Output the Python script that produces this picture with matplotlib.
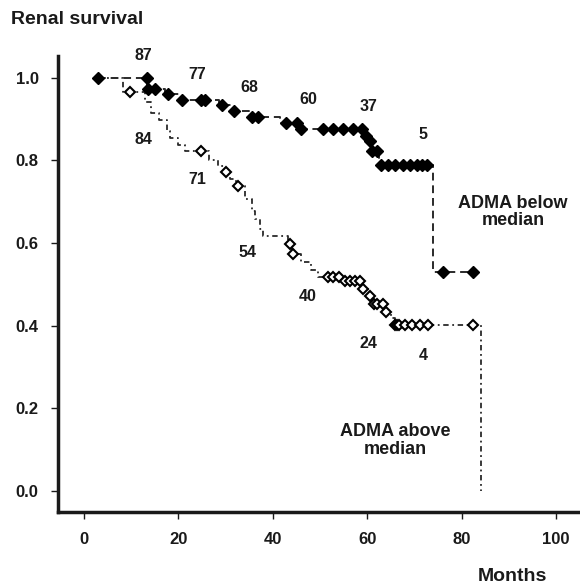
import matplotlib
matplotlib.use("Agg")
import matplotlib.pyplot as plt

plt.rcParams['font.family'] = ['Liberation Sans', 'DejaVu Sans']
plt.rcParams['font.weight'] = 'bold'

# ADMA below median: step curve and censored marks
below_t = [3, 13.4, 17.2, 20.3, 28.6, 31.2, 35.0, 41.5, 45.6, 59.3, 60.2, 60.8, 62.5, 74.0, 82.4]
below_s = [1.0, 0.973, 0.961, 0.947, 0.933, 0.920, 0.906, 0.891, 0.875, 0.858, 0.846, 0.824, 0.790, 0.530, 0.530]
below_mt = [3, 13.3, 13.6, 15, 17.8, 20.8, 24.8, 25.6, 29.2, 31.8, 35.6, 36.9, 42.8, 45.1, 46,
            50.6, 52.8, 54.9, 57, 58.9, 59.7, 60.6, 61, 62, 63, 64.5, 66, 67.5, 69, 70.5,
            71.6, 72.7, 76, 82.4]
below_ms = [1.0, 1.0, 0.973, 0.973, 0.961, 0.947, 0.947, 0.947, 0.933, 0.920, 0.906, 0.906, 0.891, 0.891, 0.875,
            0.875, 0.875, 0.875, 0.875, 0.875, 0.858, 0.846, 0.824, 0.824, 0.790, 0.790, 0.790, 0.790, 0.790, 0.790,
            0.790, 0.790, 0.530, 0.530]

# ADMA above median
above_t = [3, 8.3, 13.0, 14.3, 15.8, 17.5, 18.2, 20.0, 21.5, 26.5, 28.5, 29.8, 31.0, 32.2, 34.2, 35.5,
           36.3, 37.3, 38.0, 43.3, 44.0, 46.0, 48.0, 49.5, 55.0, 58.8, 60.2, 61.3, 63.6, 65.0, 65.8, 84.1]
above_s = [1.0, 0.966, 0.942, 0.915, 0.899, 0.870, 0.855, 0.838, 0.822, 0.802, 0.786, 0.771, 0.754, 0.737, 0.706, 0.677,
           0.658, 0.634, 0.617, 0.598, 0.573, 0.555, 0.535, 0.518, 0.508, 0.489, 0.472, 0.453, 0.434, 0.418, 0.402, 0.0]
above_mt = [9.7, 24.8, 30.1, 32.6, 43.6, 44.3, 51.7, 52.8, 54.0, 55.3, 56.4, 57.4, 58.5, 59.1, 60.6,
            61.5, 62.0, 63.3, 64.0, 66.0, 66.3, 66.7, 68.0, 69.5, 71.2, 72.9, 82.4]
above_ms = [0.966, 0.822, 0.771, 0.737, 0.598, 0.573, 0.518, 0.518, 0.518, 0.508, 0.508, 0.508, 0.508, 0.489, 0.472,
            0.453, 0.453, 0.453, 0.434, 0.402, 0.402, 0.402, 0.402, 0.402, 0.402, 0.402, 0.402]

# numbers at risk
risk_below = ['87', '77', '68', '60', '37', '5']
risk_below_x = [12.5, 24, 35, 47.5, 60.2, 71.8]
risk_below_y = [1.055, 1.007, 0.976, 0.947, 0.930, 0.863]
risk_above = ['84', '71', '54', '40', '24', '4']
risk_above_x = [12.7, 24, 34.7, 47.5, 60.2, 71.8]
risk_above_y = [0.85, 0.754, 0.578, 0.47, 0.357, 0.328]

xticks = [0, 20, 40, 60, 80, 100]
yticks = [0.0, 0.2, 0.4, 0.6, 0.8, 1.0]

ink = '#1a1a1a'

fig = plt.figure(figsize=(5.8, 5.88), dpi=100)
ax = fig.add_axes([0.1, 0.129, 0.9, 0.776])

ax.plot(below_t, below_s, drawstyle='steps-post', color='#2a2a2a', lw=1.4,
        linestyle=(0, (4, 2.5)))
ax.plot(above_t, above_s, drawstyle='steps-post', color='#2a2a2a', lw=1.3,
        linestyle=(0, (3, 2, 1, 2)))
ax.plot(below_mt, below_ms, 'D', color='black', markersize=6.6, linestyle='none')
ax.plot(above_mt, above_ms, 'D', markerfacecolor='white', markeredgecolor='black',
        markeredgewidth=1.5, markersize=5.6, linestyle='none')

for lab, x, y in zip(risk_below, risk_below_x, risk_below_y):
    ax.text(x, y, lab, ha='center', va='center', fontsize=11.5, fontweight='bold', color=ink)
for lab, x, y in zip(risk_above, risk_above_x, risk_above_y):
    ax.text(x, y, lab, ha='center', va='center', fontsize=11.5, fontweight='bold', color=ink)

ax.text(90.9, 0.675, 'ADMA below\nmedian', ha='center', va='center', fontsize=13,
        fontweight='bold', color=ink, linespacing=1.05)
ax.text(66, 0.123, 'ADMA above\nmedian', ha='center', va='center', fontsize=13,
        fontweight='bold', color=ink, linespacing=1.05)

ax.set_xlim(-5.5, 105.1)
ax.set_ylim(-0.051, 1.053)
ax.set_xticks(xticks)
ax.set_yticks(yticks)
ax.set_xticklabels([str(v) for v in xticks])
ax.set_yticklabels(['%.1f' % v for v in yticks])
ax.tick_params(direction='out', length=5, width=1, pad=9, labelsize=12, colors=ink)
for side in ['top', 'right']:
    ax.spines[side].set_visible(False)
for side in ['left', 'bottom']:
    ax.spines[side].set_linewidth(2.5)
    ax.spines[side].set_color(ink)

fig.text(0.019, 0.966, 'Renal survival', ha='left', va='center', fontsize=14,
         fontweight='bold', color=ink)
fig.text(0.883, 0.019, 'Months', ha='center', va='center', fontsize=14,
         fontweight='bold', color=ink)

fig.savefig('out.png', dpi=100)
